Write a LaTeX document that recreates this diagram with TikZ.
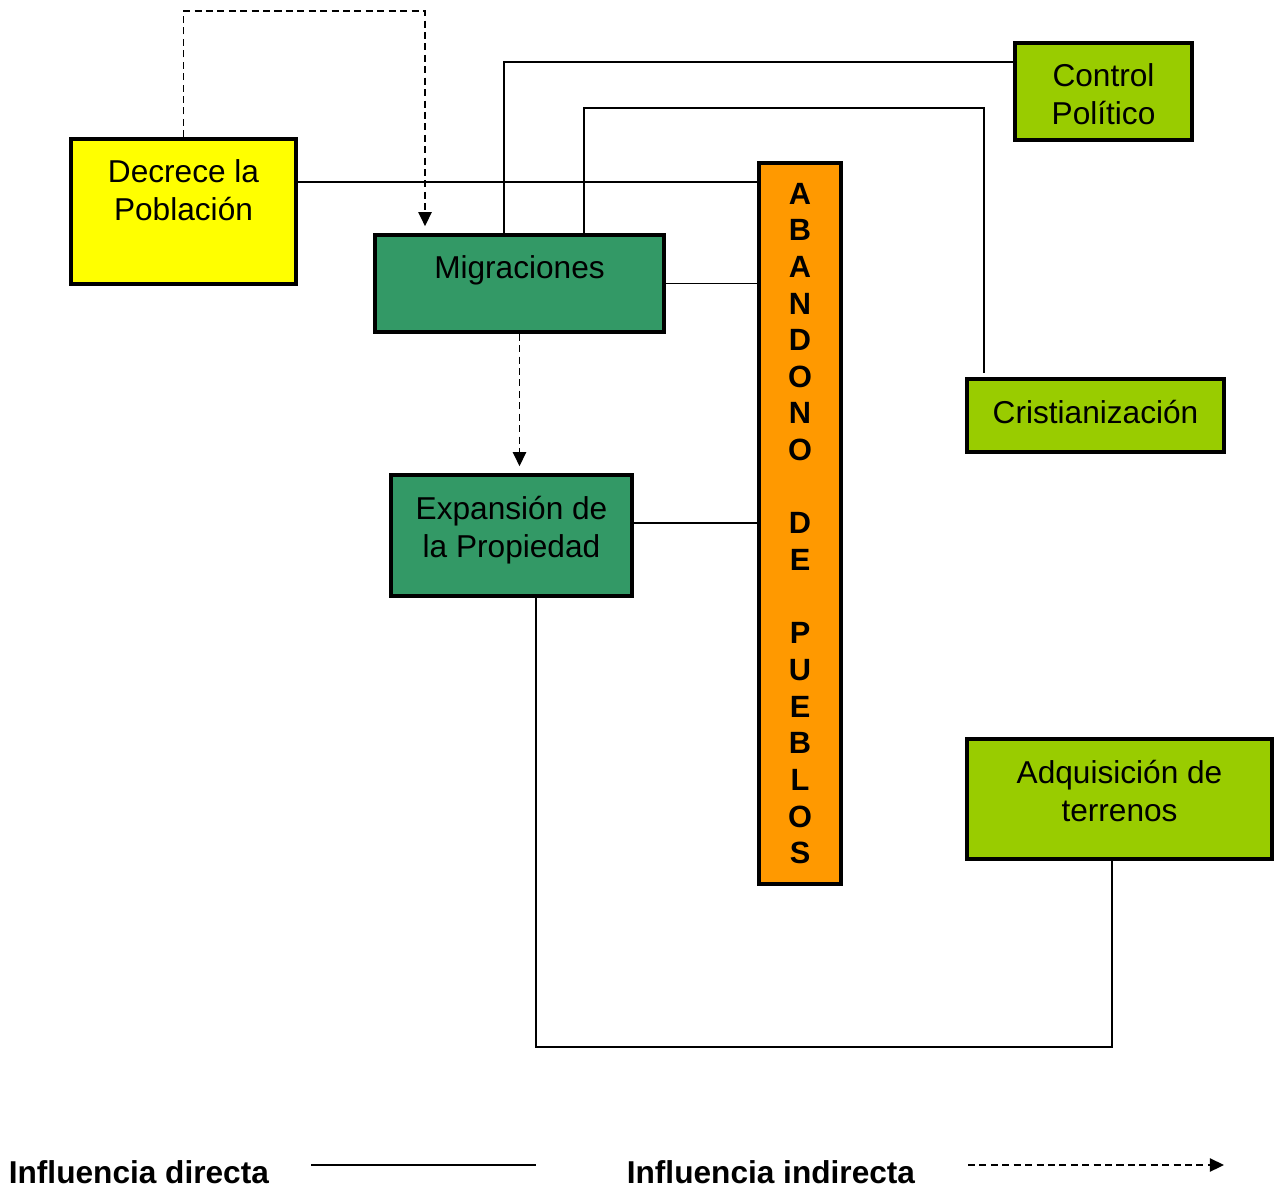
\documentclass[tikz,border=0pt]{standalone}
\usepackage{fontspec}
\setmainfont{Liberation Sans}
\usetikzlibrary{arrows.meta,positioning}
\def\px{0.02cm}
\definecolor{amarillo}{HTML}{FFFF00}
\definecolor{verdeosc}{HTML}{339966}
\definecolor{naranja}{HTML}{FF9900}
\definecolor{verdelima}{HTML}{99CC00}

\begin{document}
\begin{tikzpicture}[x=\px,y=-\px,line width=0.95pt]
\tikzstyle{caja}=[rectangle,draw=black,line width=2pt,inner sep=0pt]
\tikzstyle{etiqueta}=[font=\fontsize{18}{21.5}\selectfont,align=center,inner sep=0pt,anchor=north,yshift=-12.5pt]
\tikzstyle{indirecta}=[dash pattern=on 4pt off 2.5pt,-{Triangle[length=8pt,width=7.5pt]}]
\tikzstyle{leyenda}=[font=\fontsize{18}{21.5}\selectfont\bfseries,inner sep=0pt,anchor=west]

\useasboundingbox (0,0) rectangle (1277,1189);

% Draw the boxes
\node[caja,fill=amarillo,minimum width=225*\px,minimum height=145*\px,
  label={[etiqueta]north:Decrece la\\Población}] (dec) at (183.5,211.5) {};
\node[caja,fill=verdeosc,minimum width=289*\px,minimum height=97*\px,
  label={[etiqueta]north:Migraciones}] (mig) at (519.5,283.5) {};
\node[caja,fill=verdeosc,minimum width=241*\px,minimum height=121*\px,
  label={[etiqueta]north:Expansión de\\la Propiedad}] (exp) at (511.5,535.5) {};
\node[caja,fill=verdelima,minimum width=177*\px,minimum height=97*\px,
  label={[etiqueta]north:Control\\Político}] (ctrl) at (1103.5,91.5) {};
\node[caja,fill=verdelima,minimum width=257*\px,minimum height=73*\px,
  label={[etiqueta]north:Cristianización}] (cris) at (1095.5,415.5) {};
\node[caja,fill=verdelima,minimum width=305*\px,minimum height=120*\px,
  label={[etiqueta]north:Adquisición de\\terrenos}] (adq) at (1119.5,799) {};

% The central bar
\node[caja,fill=naranja,line width=2.8pt,minimum width=82*\px,minimum height=721*\px,
  align=center,font=\fontsize{17.5}{20.86}\selectfont\bfseries] (aban) at (800,523.5)
  {A\\B\\A\\N\\D\\O\\N\\O\\~\\D\\E\\~\\P\\U\\E\\B\\L\\O\\S};

% Direct influences
\draw ([yshift=0.59cm]dec.east) -- ([yshift=0.59cm]dec.east -| aban.west);
\draw (mig.east) -- (mig.east -| aban.west);
\draw ([yshift=0.25cm]exp.east) -- ([yshift=0.25cm]exp.east -| aban.west);
\draw ([xshift=-0.31cm]mig.north) |- ([yshift=0.59cm]ctrl.west);
\draw ([xshift=1.29cm]mig.north) -- ++(0,-125) -| ([xshift=-2.23cm,yshift=0.08cm]cris.north);
\draw ([xshift=0.49cm]exp.south) -- ++(0,449) -| ([xshift=-0.15cm]adq.south);

% Indirect influences
\draw[indirecta,shorten >=4pt] (dec.north) -- ++(0,-126) -| ([xshift=-1.89cm]mig.north);
\draw[indirecta,shorten >=4pt] (mig.south) -- (mig.south |- exp.north);

% Legend
\node[leyenda] (l-dir) at (8,1172) {Influencia directa};
\node[leyenda] (l-ind) at (626,1172) {Influencia indirecta};
\coordinate (d-a) at (311,1165);
\coordinate (d-b) at (536,1165);
\coordinate (i-a) at (968,1165);
\coordinate (i-b) at (1224,1165);
\draw (d-a) -- (d-b);
\draw[indirecta] (i-a) -- (i-b);

\end{tikzpicture}
\end{document}
